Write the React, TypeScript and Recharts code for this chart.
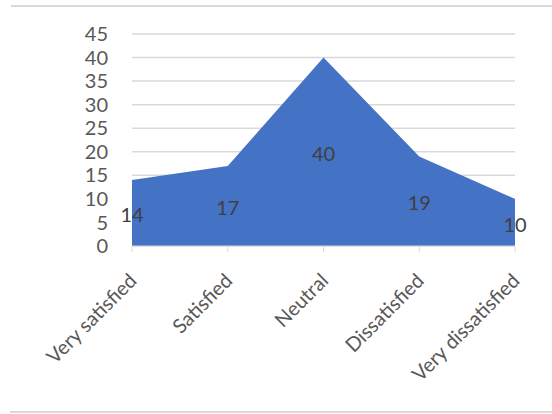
import { AreaChart, Area, XAxis, YAxis, CartesianGrid, LabelList } from "recharts";

const categories = ["Very satisfied", "Satisfied", "Neutral", "Dissatisfied", "Very dissatisfied"];
const responses = [14, 17, 40, 19, 10];
const yTicks = [0, 5, 10, 15, 20, 25, 30, 35, 40, 45];

const WIDTH = 552;
const HEIGHT = 414;
const MARGIN = { top: 34, right: 37, left: 0, bottom: 68 };
const X_AXIS_HEIGHT = 100;
const PLOT_BOTTOM = HEIGHT - MARGIN.bottom - X_AXIS_HEIGHT;

const FONT = "Lato, 'Open Sans', sans-serif";
const FONT_SIZE = 20;

const data = categories.map((name, i) => ({ name, value: responses[i] }));

function CategoryTick({ x, y, payload }: any) {
  const ax = x + 6;
  const ay = y + 28;
  return (
    <text
      x={ax}
      y={ay}
      transform={`rotate(-45, ${ax}, ${ay})`}
      textAnchor="end"
      fill="#595959"
      fontSize={FONT_SIZE}
      fontFamily={FONT}
    >
      {payload.value}
    </text>
  );
}

// value labels sit halfway between the line and the baseline
function MidLabel({ x, y, value }: any) {
  return (
    <text
      x={x}
      y={(y + PLOT_BOTTOM) / 2 + 4}
      textAnchor="middle"
      dominantBaseline="middle"
      fill="#404040"
      fontSize={FONT_SIZE}
      fontFamily={FONT}
    >
      {value}
    </text>
  );
}

export default function App() {
  return (
    <div style={{ position: "absolute", left: 0, top: 0, width: WIDTH, height: HEIGHT, background: "#fff" }}>
      <div style={{ position: "absolute", left: 11, right: 0, top: 5, height: 2, background: "#d9d9d9" }} />
      <div style={{ position: "absolute", left: 10, right: 0, top: 411, height: 2, background: "#d9d9d9" }} />
      <AreaChart width={WIDTH} height={HEIGHT} data={data} margin={MARGIN}>
        <CartesianGrid vertical={false} stroke="#d9d9d9" strokeWidth={1.5} />
        <XAxis
          dataKey="name"
          height={X_AXIS_HEIGHT}
          interval={0}
          stroke="#d9d9d9"
          tickSize={6}
          tick={<CategoryTick />}
        />
        <YAxis
          width={132}
          domain={[0, 45]}
          ticks={yTicks}
          interval={0}
          axisLine={false}
          tickLine={false}
          tickMargin={18}
          tick={{ fill: "#595959", fontSize: FONT_SIZE, fontFamily: FONT }}
        />
        <Area
          type="linear"
          dataKey="value"
          stroke="none"
          fill="#4472c4"
          fillOpacity={1}
          isAnimationActive={false}
        >
          <LabelList dataKey="value" content={<MidLabel />} />
        </Area>
      </AreaChart>
    </div>
  );
}
